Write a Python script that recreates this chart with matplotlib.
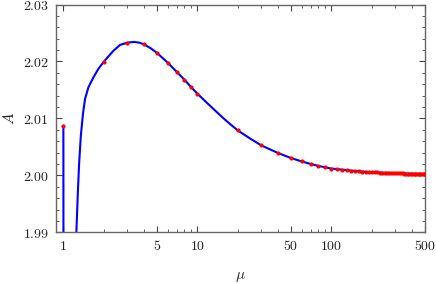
import numpy as np
import matplotlib
matplotlib.use("Agg")
import matplotlib.pyplot as plt
from matplotlib.ticker import FixedLocator, NullFormatter, MultipleLocator

plt.rcParams["mathtext.fontset"] = "cm"
plt.rcParams["font.family"] = "serif"
plt.rcParams["font.serif"] = ["DejaVu Serif"]

# blue curve
curve_mu = [1.0, 1.003, 1.24, 1.25, 1.28, 1.31, 1.35, 1.40, 1.45, 1.537,
            1.675, 1.824, 2.0, 2.36, 2.65, 3.0, 3.35, 3.7, 4.0, 4.5, 5.0,
            6.0, 7.0, 8.0, 9.0, 10.0, 12.0, 14.0, 16.0, 18.0, 20.0, 25.0,
            30.0, 40.0, 50.0, 60.0, 70.0, 80.0, 90.0, 100.0, 150.0, 200.0,
            300.0, 400.0, 500.0]
curve_A = [2.0087, 1.96, 1.96, 1.990, 1.9965, 2.0020, 2.0070, 2.0108, 2.0134,
           2.01546, 2.0172, 2.0187, 2.01995, 2.02187, 2.02292, 2.0233,
           2.02344, 2.0233, 2.0230, 2.0223, 2.0215, 2.0198, 2.0182, 2.0168,
           2.01546, 2.01435, 2.01256, 2.01108, 2.00982, 2.00879, 2.0079,
           2.0064, 2.00526, 2.00392, 2.00304, 2.00245, 2.00200, 2.00166,
           2.00140, 2.00120, 2.00077, 2.00056, 2.00037, 2.00028, 2.00022]

# red sample points
dot_mu = [1, 2, 3, 4, 5, 6, 7, 8, 9, 10, 20, 30, 40, 50, 60, 70, 80, 90,
          100, 110, 120, 130, 140, 150, 160, 170, 180, 190, 200, 210, 220,
          230, 240, 250, 260, 270, 280, 290, 300, 310, 320, 330, 340, 350,
          360, 370, 380, 390, 400, 410, 420, 430, 440, 450, 460, 470, 480,
          490, 500]
dot_A = [2.0087, 2.0199, 2.0233, 2.0230, 2.0215, 2.0198, 2.0182, 2.0168,
         2.01546, 2.01435, 2.0079, 2.00526, 2.00392, 2.00304, 2.00245,
         2.00200, 2.00166, 2.00140, 2.00120, 2.00108, 2.00098, 2.00090,
         2.00083, 2.00077, 2.00072, 2.00067, 2.00063, 2.00060, 2.00056,
         2.00054, 2.00051, 2.00049, 2.00047, 2.00045, 2.00043, 2.00042,
         2.00040, 2.00039, 2.00037, 2.00036, 2.00035, 2.00034, 2.00033,
         2.00032, 2.00031, 2.00030, 2.00029, 2.00029, 2.00028, 2.00027,
         2.00027, 2.00026, 2.00025, 2.00025, 2.00024, 2.00024, 2.00023,
         2.00023, 2.00022]

x_ticks = [1, 5, 10, 50, 100, 500]
y_ticks = [1.99, 2.00, 2.01, 2.02, 2.03]

fig = plt.figure(figsize=(4.36, 2.84), dpi=100)
ax = fig.add_axes([0.128, 0.182, 0.847, 0.802])

ax.plot(curve_mu, curve_A, color="#0000ff", lw=1.5, zorder=2)
ax.plot(dot_mu, dot_A, "o", color="#ff0000", ms=3, mec="none", zorder=3)

ax.set_xscale("log")
ax.set_xlim(0.878, 500)
ax.set_ylim(1.99, 2.03)

minors = [m * d for d in (1, 10, 100) for m in range(2, 10) if m * d < 500 and m != 5]
ax.xaxis.set_major_locator(FixedLocator(x_ticks))
ax.xaxis.set_minor_locator(FixedLocator(minors))
ax.set_xticklabels([f"${t}$" for t in x_ticks])
ax.xaxis.set_minor_formatter(NullFormatter())
ax.yaxis.set_major_locator(FixedLocator(y_ticks))
ax.yaxis.set_minor_locator(MultipleLocator(0.002))
ax.set_yticklabels([f"${t:.2f}$" for t in y_ticks])

ax.tick_params(which="both", direction="in", top=True, right=True,
               colors="#444444", labelcolor="#222222", labelsize=10, pad=5)
ax.tick_params(which="major", length=4, width=0.8)
ax.tick_params(which="minor", length=2.5, width=0.6)
for s in ax.spines.values():
    s.set_color("#666666")
    s.set_linewidth(1.0)

ax.set_xlabel(r"$\mu$", fontsize=11, color="#222222", labelpad=12)
ax.set_ylabel(r"$A$", fontsize=11, color="#222222", labelpad=4)

fig.savefig("out.png", dpi=100)
